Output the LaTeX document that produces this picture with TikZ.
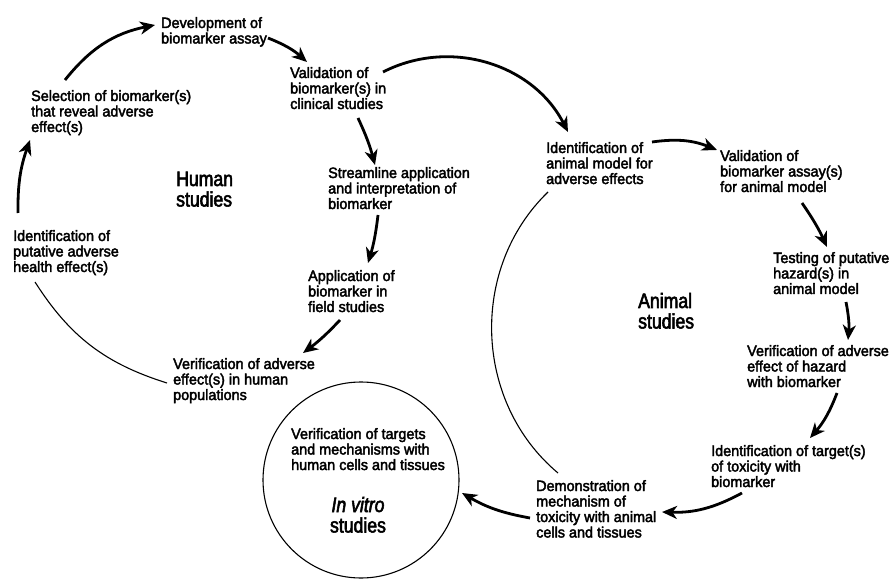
\documentclass[tikz,border=0pt]{standalone}
\usepackage{fontspec}
\setmainfont{Liberation Sans}[FakeStretch=0.96,FakeBold=2.6]
\newfontfamily\bigfont{Liberation Sans}[FakeStretch=0.84,FakeBold=2.6]
\usetikzlibrary{arrows.meta}
\newcommand{\mlL}[1]{\vtop{\let\\\cr\halign{##\hfil\cr#1\cr}}}
\newcommand{\mlC}[1]{\vtop{\let\\\cr\halign{\hfil##\hfil\cr#1\cr}}}
\begin{document}
\begin{tikzpicture}[x=1pt,y=-1pt,
 txt/.style={inner sep=0pt, anchor=base west, font=\fontsize{15}{15.5}\selectfont},
 big/.style={inner sep=0pt, anchor=base west, font=\bigfont\fontsize{21}{20.5}\selectfont},
 arr/.style={line width=2.8pt, -{Stealth[length=15pt,width=13pt,inset=4.5pt]}},
 thinarc/.style={line width=1.1pt}]
\useasboundingbox (0,0) rectangle (892,580);
% human cycle
\node[txt] (dev) at (161,28) {\mlL{Development of\\biomarker assay}};
\node[txt] (val) at (290,78) {\mlL{Validation of\\biomarker(s) in\\clinical studies}};
\node[txt] (sel) at (31,101) {\mlL{Selection of biomarker(s)\\that reveal adverse\\effect(s)}};
\node[txt] (str) at (328,178) {\mlL{Streamline application\\and interpretation of\\biomarker}};
\node[txt] (idh) at (13,241) {\mlL{Identification of\\putative adverse\\health effect(s)}};
\node[txt] (app) at (308,281) {\mlL{Application of\\biomarker in\\field studies}};
\node[txt] (vhp) at (173,369) {\mlL{Verification of adverse\\effect(s) in human\\populations}};
\node[big] (hum) at (176,186) {\mlL{Human\\studies}};
% animal cycle
\node[txt] (ida) at (546,153) {\mlL{Identification of\\animal model for\\adverse effects}};
\node[txt] (vaa) at (720,161) {\mlL{Validation of\\biomarker assay(s)\\for animal model}};
\node[txt] (tst) at (773,263) {\mlL{Testing of putative\\hazard(s) in\\animal model}};
\node[big] (ani) at (638,308) {\mlL{Animal\\studies}};
\node[txt] (vah) at (747,356) {\mlL{Verification of adverse\\effect of hazard\\with biomarker}};
\node[txt] (itg) at (711,456) {\mlL{Identification of target(s)\\of toxicity with\\biomarker}};
\node[txt] (dem) at (536,491) {\mlL{Demonstration of\\mechanism of\\toxicity with animal\\cells and tissues}};
% in vitro
\node[draw, circle, line width=1.1pt, minimum size=196pt, inner sep=0pt] (cir) at (361,480) {};
\node[txt] (ivt) at (291,439) {\mlL{Verification of targets\\and mechanisms with\\human cells and tissues}};
\node[big, anchor=base] (ivs) at (358,512) {\mlC{\itshape In vitro\\studies}};
% arrows human
\draw[arr] ([shift={(5,-28)}]idh.base west) to[bend left=10] ([shift={(-1,39)}]sel.base west);
\draw[arr] ([shift={(34,-21)}]sel.base west) to[bend left=20] ([shift={(-6,-3)}]dev.base west);
\draw[arr] ([shift={(107,10)}]dev.base west) to[bend left=10] ([shift={(17,-16)}]val.base west);
\draw[arr] ([shift={(68,40)}]val.base west) to[bend left=5] ([shift={(47,-13)}]str.base west);
\draw[arr] ([shift={(93,-6)}]val.base west) to[bend left=45] ([shift={(22,-21)}]ida.base west);
\draw[arr] ([shift={(50,37)}]str.base west) to[bend left=5] ([shift={(60,-18)}]app.base west);
\draw[arr] ([shift={(32,39)}]app.base west) to[bend left=5] ([shift={(130,-16)}]vhp.base west);
\draw[thinarc] ([shift={(22,41)}]idh.base west) to[bend right=20] ([shift={(-6,14)}]vhp.base west);
% arrows animal
\draw[arr] ([shift={(106,-11)}]ida.base west) to[bend left=15] ([shift={(-3,-11)}]vaa.base west);
\draw[arr] ([shift={(82,42)}]vaa.base west) to[bend left=5] ([shift={(54,-16)}]tst.base west);
\draw[arr] ([shift={(73,39)}]tst.base west) to[bend left=8] ([shift={(101,-16)}]vah.base west);
\draw[arr] ([shift={(90,37)}]vah.base west) to[bend left=10] ([shift={(99,-18)}]itg.base west);
\draw[arr] ([shift={(31,37)}]itg.base west) to[bend left=15] ([shift={(126,21)}]dem.base west);
\draw[arr] ([shift={(-6,27)}]dem.base west) to[bend left=10] ([shift={(101,13)}]cir.center);
\draw[thinarc] ([shift={(22,-18)}]dem.base west) to[bend left=48] ([shift={(2,39)}]ida.base west);
\end{tikzpicture}
\end{document}
